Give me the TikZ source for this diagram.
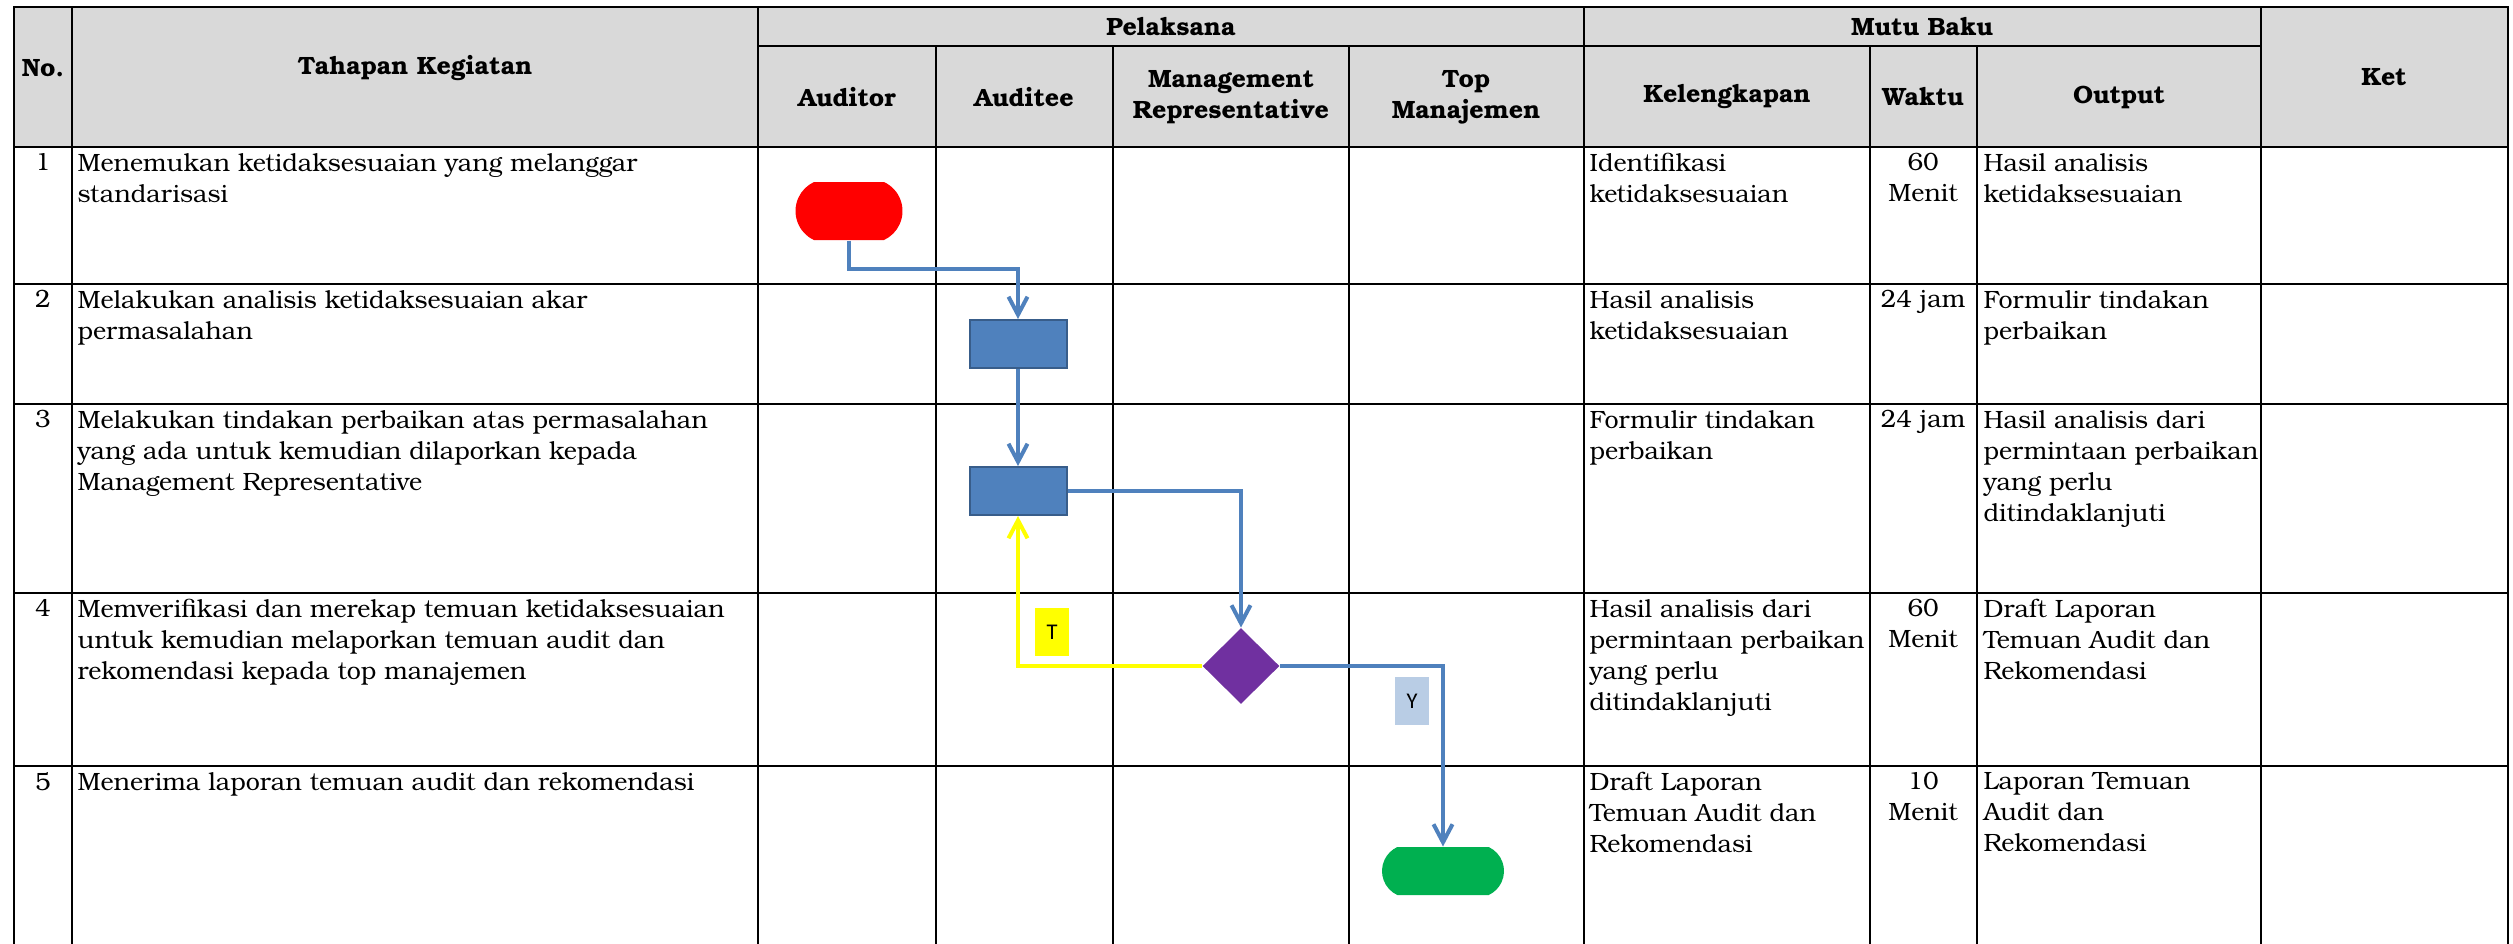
\documentclass[tikz,border=0pt]{standalone}
\usepackage{fontspec}
\setmainfont{TeX Gyre Bonum}
\newfontfamily\labelfont{Carlito}
\usetikzlibrary{arrows.meta,shapes.geometric,shapes.misc}
\definecolor{headgray}{HTML}{D9D9D9}
\definecolor{flowblue}{HTML}{4F81BD}
\definecolor{flowedge}{HTML}{385D8A}
\definecolor{startred}{HTML}{FF0000}
\definecolor{endgreen}{HTML}{00B050}
\definecolor{checkpurple}{HTML}{7030A0}
\definecolor{backyellow}{HTML}{FFFF00}
\definecolor{yeslabel}{HTML}{B9CDE5}

\begin{document}
\begin{tikzpicture}[
  x=0.4pt,y=-0.4pt,line cap=rect,
  grid/.style={black,line width=0.8pt},
  rowline/.style={black,line width=1pt},
  headtext/.style={font=\bfseries\fontsize{10}{12.4}\selectfont,align=center,inner sep=0pt},
  celltext/.style={font=\fontsize{10}{12.4}\selectfont,align=left,anchor=north west,inner sep=0pt},
  timetext/.style={font=\fontsize{10}{12.4}\selectfont,align=center,anchor=north,inner sep=0pt},
  terminal/.style={rounded rectangle,rounded rectangle arc length=130,inner sep=0pt},
  process/.style={rectangle,fill=flowblue,draw=flowedge,line width=0.8pt,
    minimum width=38.8pt,minimum height=19.2pt,inner sep=0pt},
  decision/.style={diamond,fill=checkpurple,minimum width=30.8pt,minimum height=30.4pt,inner sep=0pt},
  flow/.style={flowblue,line width=1.6pt,line cap=butt,-{Straight Barb[length=7.2pt,width=7.6pt]}},
  backflow/.style={flow,backyellow},
  answer/.style={font=\labelfont\fontsize{9}{10}\selectfont,inner sep=0pt,
    minimum width=13.4pt,minimum height=19.2pt}
]
  \useasboundingbox (0,0) rectangle (2513,943);

  % Header band and table rules.
  \fill[headgray] (14,7) rectangle (2508,147);
  \draw[rowline] (14,7) -- (2508,7);
  \draw[grid] (758,46) -- (2261,46);
  \foreach \y in {147,284,404,593,766} {
    \draw[rowline] (14,\y) -- (2508,\y);
  }
  \foreach \x in {14,72,758,1584,2261,2508} {
    \draw[grid] (\x,7) -- (\x,943);
  }
  \foreach \x in {936,1113,1349,1870,1977} {
    \draw[grid] (\x,46) -- (\x,943);
  }

  % Column headings.
  \node[headtext] (hno) at (43,68) {No.};
  \node[headtext] (hstep) at (415,68) {Tahapan Kegiatan};
  \node[headtext] (hexec) at (1171,27) {Pelaksana};
  \node[headtext] (hquality) at (1922,27) {Mutu Baku};
  \node[headtext] (hauditor) at (847,97) {Auditor};
  \node[headtext] (hauditee) at (1024,97) {Auditee};
  \node[headtext] (hmr) at (1231,97) {Management\\Representative};
  \node[headtext] (htop) at (1466,97) {Top\\Manajemen};
  \node[headtext] (hkel) at (1727,97) {Kelengkapan};
  \node[headtext] (hwaktu) at (1923,97) {Waktu};
  \node[headtext] (houtput) at (2119,97) {Output};
  \node[headtext] (hket) at (2384,77) {Ket};

  % Row texts.
  \foreach \n/\y in {1/153,2/290,3/410,4/599,5/772} {
    \node[timetext] (no\n) at (43,\y) {\n};
  }
  \node[celltext] (t1) at (77,153) {Menemukan ketidaksesuaian yang melanggar\\standarisasi};
  \node[celltext] (t2) at (77,290) {Melakukan analisis ketidaksesuaian akar\\permasalahan};
  \node[celltext] (t3) at (77,410) {Melakukan tindakan perbaikan atas permasalahan\\yang ada untuk kemudian dilaporkan kepada\\Management Representative};
  \node[celltext] (t4) at (77,599) {Memverifikasi dan merekap temuan ketidaksesuaian\\untuk kemudian melaporkan temuan audit dan\\rekomendasi kepada top manajemen};
  \node[celltext] (t5) at (77,772) {Menerima laporan temuan audit dan rekomendasi};

  \node[celltext] (k1) at (1589,153) {Identifikasi\\ketidaksesuaian};
  \node[celltext] (k2) at (1589,290) {Hasil analisis\\ketidaksesuaian};
  \node[celltext] (k3) at (1589,410) {Formulir tindakan\\perbaikan};
  \node[celltext] (k4) at (1589,599) {Hasil analisis dari\\permintaan perbaikan\\yang perlu\\ditindaklanjuti};
  \node[celltext] (k5) at (1589,772) {Draft Laporan\\Temuan Audit dan\\Rekomendasi};

  \node[timetext] (w1) at (1923,153) {60\\Menit};
  \node[timetext] (w2) at (1923,290) {24 jam};
  \node[timetext] (w3) at (1923,410) {24 jam};
  \node[timetext] (w4) at (1923,599) {60\\Menit};
  \node[timetext] (w5) at (1923,772) {10\\Menit};

  \node[celltext] (o1) at (1983,153) {Hasil analisis\\ketidaksesuaian};
  \node[celltext] (o2) at (1983,290) {Formulir tindakan\\perbaikan};
  \node[celltext] (o3) at (1983,410) {Hasil analisis dari\\permintaan perbaikan\\yang perlu\\ditindaklanjuti};
  \node[celltext] (o4) at (1983,599) {Draft Laporan\\Temuan Audit dan\\Rekomendasi};
  \node[celltext] (o5) at (1983,772) {Laporan Temuan\\Audit dan\\Rekomendasi};

  % Flow symbols.
  \node[terminal,fill=startred,minimum width=42.8pt,minimum height=23.2pt] (start) at (849,211) {};
  \node[process] (fix1) at (1018,344) {};
  \node[process] (fix2) at (1018,491) {};
  \node[decision] (check) at (1241,666) {};
  \node[terminal,fill=endgreen,minimum width=48.8pt,minimum height=19.2pt] (finish) at (1443,871) {};

  % Connectors.
  \draw[flow] (start.south) -- ++(0,28) -| (fix1.north);
  \draw[flow] (fix1.south) -- (fix2.north);
  \draw[flow] (fix2.east) -| (check.north);
  \draw[backflow] (check.west) -| (fix2.south);
  \draw[flow] (check.east) -| (finish.north);

  % Decision labels.
  \node[answer,fill=backyellow] (no) at (1052,632) {T};
  \node[answer,fill=yeslabel] (yes) at (1412,701) {Y};
\end{tikzpicture}
\end{document}
